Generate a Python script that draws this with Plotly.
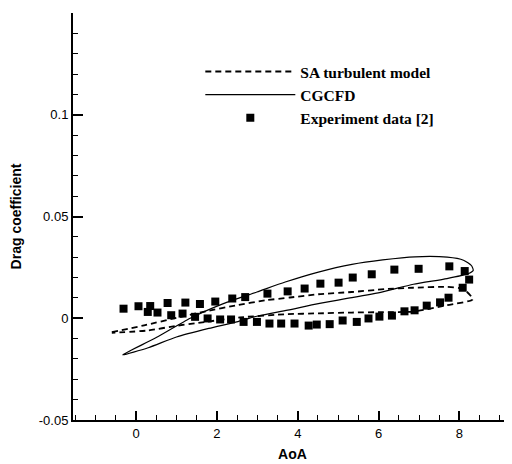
import plotly.graph_objects as go

# CGCFD hysteresis loop (solid)
cgcfd_aoa = [-0.33, 0.5, 1.34, 2.16, 2.99, 3.69, 4.51, 5.34, 6.1, 6.9, 7.7, 8.1, 8.3, 8.34, 8.2,
             7.69, 6.86, 6.1, 5.34, 4.51, 3.75, 2.99, 2.49, 1.8, 1.0, 0.3, -0.33]
cgcfd_cd = [-0.018, -0.0095, 0.0, 0.0072, 0.0129, 0.0178, 0.0227, 0.0265, 0.0287, 0.0302, 0.0300,
            0.0285, 0.0258, 0.0235, 0.0218,
            0.0195, 0.0167, 0.013, 0.0101, 0.0072, 0.004, 0.001, -0.0018, -0.005, -0.0092, -0.0145, -0.018]

# SA turbulent model loop (dashed)
sa_aoa = [-0.6, 0.2, 1.0, 1.75, 2.5, 3.2, 3.81, 4.51, 5.34, 6.16, 6.86, 7.69, 8.1, 8.33,
          7.69, 6.86, 6.1, 5.34, 4.51, 3.75, 2.57, 1.46, 1.0, 0.3, -0.6]
sa_cd = [-0.0068, -0.0035, 0.0002, 0.0035, 0.0064, 0.0088, 0.0102, 0.0118, 0.0129, 0.0143, 0.015,
         0.0154, 0.0143, 0.0093,
         0.0064, 0.0033, 0.003, 0.0028, 0.0024, 0.002, 0.0004, -0.0025, -0.0037, -0.006, -0.0072]

# Experiment data [2]
exp_aoa = [-0.31, 0.06, 0.35, 0.78, 1.22, 1.58, 1.96, 2.38, 2.70, 3.25, 3.75, 4.17, 4.56, 5.01, 5.36,
           5.83, 6.39, 6.99, 7.75, 8.13, 8.24, 8.08,
           7.73, 7.52, 7.19, 6.89, 6.64, 6.33, 6.02, 5.75, 5.46, 5.11, 4.79, 4.47, 4.27, 3.92, 3.59,
           3.30, 2.99, 2.66, 2.35, 2.08, 1.77, 1.46, 1.15, 0.87, 0.53, 0.29]
exp_cd = [0.0047, 0.0059, 0.006, 0.0075, 0.0077, 0.007, 0.0082, 0.0097, 0.0104, 0.0121, 0.0132, 0.0146,
          0.017, 0.0175, 0.0200, 0.0216, 0.0239, 0.0243, 0.0255, 0.0232, 0.019, 0.015,
          0.0101, 0.0078, 0.0062, 0.0039, 0.0034, 0.0013, 0.0008, -0.0001, -0.0018, -0.0011, -0.0029,
          -0.0031, -0.0036, -0.0026, -0.0026, -0.0026, -0.0018, -0.0018, -0.0006, -0.0006, -0.0001,
          0.0007, 0.0023, 0.0015, 0.0028, 0.0031]

x_ticks = [0, 2, 4, 6, 8]
x_ticktext = ["0", "2", "4", "6", "8"]
y_ticks = [-0.05, 0, 0.05, 0.1]
y_ticktext = ["-0.05", "0", "0.05", "0.1"]

fig = go.Figure()
fig.add_trace(go.Scatter(x=sa_aoa, y=sa_cd, mode="lines", name="<b>SA turbulent model</b>",
                         line=dict(color="black", width=1.8, dash="6px,4px", shape="spline", smoothing=0.6)))
fig.add_trace(go.Scatter(x=cgcfd_aoa, y=cgcfd_cd, mode="lines", name="<b>CGCFD</b>",
                         line=dict(color="black", width=1.2, shape="spline", smoothing=0.6)))
fig.add_trace(go.Scatter(x=exp_aoa, y=exp_cd, mode="markers", name="<b>Experiment data [2]</b>",
                         marker=dict(symbol="square", size=8, color="black")))

axis_font = dict(family="Liberation Sans, Arial", size=13, color="black")
fig.update_layout(
    width=512, height=464,
    margin=dict(l=65, r=8, t=5, b=52),
    paper_bgcolor="white", plot_bgcolor="white",
    showlegend=True,
    legend=dict(x=0.29, y=0.897, xanchor="left", yanchor="top",
                bgcolor="rgba(0,0,0,0)", itemwidth=90,
                font=dict(family="Liberation Serif, Times New Roman", size=15.5, color="black"),
                tracegroupgap=0),
    xaxis=dict(range=[-1.56, 9.3], showline=True, linecolor="black", linewidth=2,
               showgrid=False, zeroline=False, ticks="inside", ticklen=9, tickwidth=1.5,
               tickcolor="black", tickvals=x_ticks, ticktext=x_ticktext, tickfont=axis_font,
               automargin=False,
               minor=dict(ticks="inside", ticklen=5, tickwidth=1, tickcolor="black", dtick=0.5,
                          tick0=0, showgrid=False),
               title=dict(text="<b>AoA</b>", font=dict(family="Liberation Sans, Arial", size=14, color="black"),
                          standoff=10)),
    yaxis=dict(range=[-0.05, 0.15], showline=True, linecolor="black", linewidth=2,
               showgrid=False, zeroline=False, ticks="inside", ticklen=10, tickwidth=1.5,
               tickcolor="black", tickvals=y_ticks, ticktext=y_ticktext, tickfont=axis_font,
               automargin=False,
               minor=dict(ticks="inside", ticklen=5, tickwidth=1, tickcolor="black", dtick=0.01,
                          tick0=0, showgrid=False),
               title=dict(text="<b>Drag coefficient</b>",
                          font=dict(family="Liberation Sans, Arial", size=14, color="black"),
                          standoff=34)),
)

fig.write_html("out.html")
